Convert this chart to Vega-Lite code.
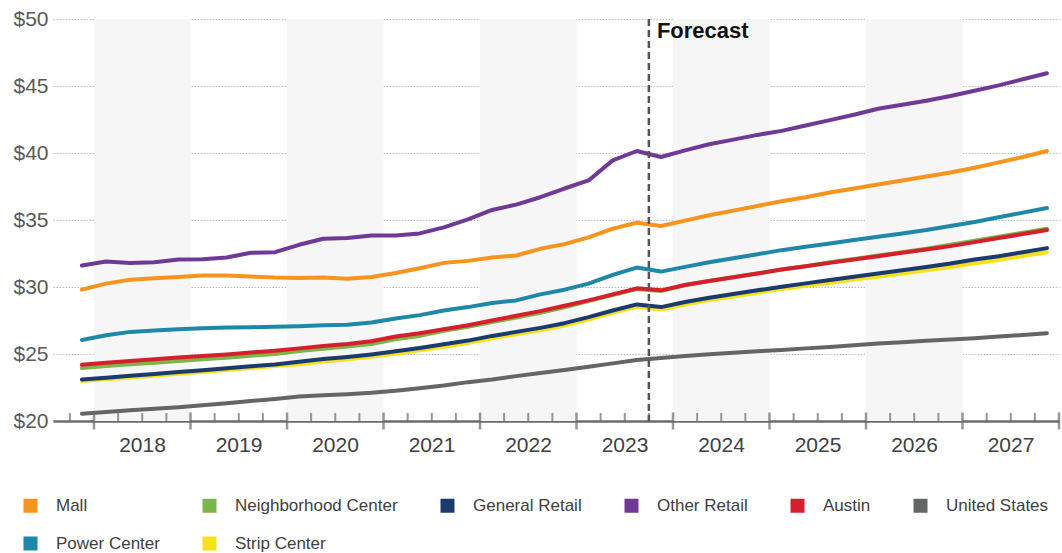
{
  "$schema": "https://vega.github.io/schema/vega-lite/v6.json",
  "width": 1006,
  "height": 402,
  "autosize": {"type": "none"},
  "padding": {"left": 53, "top": 19, "right": 3, "bottom": 132},
  "background": "white",
  "config": {"view": {"stroke": null}, "font": "Liberation Sans"},
  "datasets": {
    "bands": [
      {"start": 2018, "end": 2019},
      {"start": 2020, "end": 2021},
      {"start": 2022, "end": 2023},
      {"start": 2024, "end": 2025},
      {"start": 2026, "end": 2027}
    ],
    "years": [
      {"year": 2018}, {"year": 2019}, {"year": 2020}, {"year": 2021}, {"year": 2022}, {"year": 2023},
      {"year": 2024}, {"year": 2025}, {"year": 2026}, {"year": 2027}, {"year": 2028}
    ],
    "quarters": [
      {"q": 2017.75}, {"q": 2018.25}, {"q": 2018.5}, {"q": 2018.75}, {"q": 2019.25}, {"q": 2019.5}, {"q": 2019.75},
      {"q": 2020.25}, {"q": 2020.5}, {"q": 2020.75}, {"q": 2021.25}, {"q": 2021.5}, {"q": 2021.75},
      {"q": 2022.25}, {"q": 2022.5}, {"q": 2022.75}, {"q": 2023.25}, {"q": 2023.5}, {"q": 2023.75},
      {"q": 2024.25}, {"q": 2024.5}, {"q": 2024.75}, {"q": 2025.25}, {"q": 2025.5}, {"q": 2025.75},
      {"q": 2026.25}, {"q": 2026.5}, {"q": 2026.75}, {"q": 2027.25}, {"q": 2027.5}, {"q": 2027.75}
    ],
    "forecast": [{"t": 2023.75, "label": "Forecast"}],
    "series": [
      {"t": 2017.875, "Mall": 29.8, "Neighborhood Center": 23.95, "General Retail": 23.1, "Other Retail": 31.6, "Austin": 24.2, "United States": 20.55, "Power Center": 26.05, "Strip Center": 22.98},
      {"t": 2018.125, "Mall": 30.25, "Neighborhood Center": 24.1, "General Retail": 23.23, "Other Retail": 31.9, "Austin": 24.35, "United States": 20.67, "Power Center": 26.4, "Strip Center": 23.11},
      {"t": 2018.375, "Mall": 30.55, "Neighborhood Center": 24.23, "General Retail": 23.37, "Other Retail": 31.8, "Austin": 24.48, "United States": 20.8, "Power Center": 26.65, "Strip Center": 23.25},
      {"t": 2018.625, "Mall": 30.65, "Neighborhood Center": 24.35, "General Retail": 23.5, "Other Retail": 31.85, "Austin": 24.6, "United States": 20.92, "Power Center": 26.75, "Strip Center": 23.38},
      {"t": 2018.875, "Mall": 30.75, "Neighborhood Center": 24.48, "General Retail": 23.65, "Other Retail": 32.05, "Austin": 24.73, "United States": 21.03, "Power Center": 26.85, "Strip Center": 23.53},
      {"t": 2019.125, "Mall": 30.85, "Neighborhood Center": 24.6, "General Retail": 23.78, "Other Retail": 32.07, "Austin": 24.85, "United States": 21.17, "Power Center": 26.92, "Strip Center": 23.66},
      {"t": 2019.375, "Mall": 30.85, "Neighborhood Center": 24.72, "General Retail": 23.93, "Other Retail": 32.2, "Austin": 24.97, "United States": 21.32, "Power Center": 26.98, "Strip Center": 23.81},
      {"t": 2019.625, "Mall": 30.78, "Neighborhood Center": 24.87, "General Retail": 24.08, "Other Retail": 32.55, "Austin": 25.12, "United States": 21.5, "Power Center": 27.0, "Strip Center": 23.96},
      {"t": 2019.875, "Mall": 30.7, "Neighborhood Center": 25.0, "General Retail": 24.22, "Other Retail": 32.6, "Austin": 25.25, "United States": 21.65, "Power Center": 27.03, "Strip Center": 24.1},
      {"t": 2020.125, "Mall": 30.67, "Neighborhood Center": 25.22, "General Retail": 24.42, "Other Retail": 33.15, "Austin": 25.42, "United States": 21.82, "Power Center": 27.08, "Strip Center": 24.24},
      {"t": 2020.375, "Mall": 30.7, "Neighborhood Center": 25.4, "General Retail": 24.62, "Other Retail": 33.6, "Austin": 25.6, "United States": 21.92, "Power Center": 27.15, "Strip Center": 24.44},
      {"t": 2020.625, "Mall": 30.62, "Neighborhood Center": 25.55, "General Retail": 24.78, "Other Retail": 33.65, "Austin": 25.75, "United States": 22.0, "Power Center": 27.18, "Strip Center": 24.6},
      {"t": 2020.875, "Mall": 30.75, "Neighborhood Center": 25.75, "General Retail": 24.97, "Other Retail": 33.85, "Austin": 25.95, "United States": 22.1, "Power Center": 27.35, "Strip Center": 24.79},
      {"t": 2021.125, "Mall": 31.05, "Neighborhood Center": 26.1, "General Retail": 25.2, "Other Retail": 33.85, "Austin": 26.3, "United States": 22.25, "Power Center": 27.65, "Strip Center": 25.02},
      {"t": 2021.375, "Mall": 31.4, "Neighborhood Center": 26.35, "General Retail": 25.45, "Other Retail": 34.0, "Austin": 26.55, "United States": 22.45, "Power Center": 27.9, "Strip Center": 25.27},
      {"t": 2021.625, "Mall": 31.8, "Neighborhood Center": 26.73, "General Retail": 25.72, "Other Retail": 34.45, "Austin": 26.85, "United States": 22.65, "Power Center": 28.25, "Strip Center": 25.54},
      {"t": 2021.875, "Mall": 31.95, "Neighborhood Center": 27.03, "General Retail": 26.0, "Other Retail": 35.05, "Austin": 27.15, "United States": 22.9, "Power Center": 28.5, "Strip Center": 25.82},
      {"t": 2022.125, "Mall": 32.2, "Neighborhood Center": 27.38, "General Retail": 26.35, "Other Retail": 35.75, "Austin": 27.5, "United States": 23.1, "Power Center": 28.8, "Strip Center": 26.17},
      {"t": 2022.375, "Mall": 32.35, "Neighborhood Center": 27.73, "General Retail": 26.65, "Other Retail": 36.15, "Austin": 27.85, "United States": 23.35, "Power Center": 29.0, "Strip Center": 26.47},
      {"t": 2022.625, "Mall": 32.85, "Neighborhood Center": 28.08, "General Retail": 26.95, "Other Retail": 36.7, "Austin": 28.2, "United States": 23.58, "Power Center": 29.45, "Strip Center": 26.77},
      {"t": 2022.875, "Mall": 33.2, "Neighborhood Center": 28.48, "General Retail": 27.3, "Other Retail": 37.35, "Austin": 28.6, "United States": 23.8, "Power Center": 29.8, "Strip Center": 27.12},
      {"t": 2023.125, "Mall": 33.7, "Neighborhood Center": 28.95, "General Retail": 27.75, "Other Retail": 37.95, "Austin": 29.0, "United States": 24.05, "Power Center": 30.25, "Strip Center": 27.57},
      {"t": 2023.375, "Mall": 34.35, "Neighborhood Center": 29.4, "General Retail": 28.25, "Other Retail": 39.45, "Austin": 29.45, "United States": 24.3, "Power Center": 30.9, "Strip Center": 28.07},
      {"t": 2023.625, "Mall": 34.8, "Neighborhood Center": 29.85, "General Retail": 28.7, "Other Retail": 40.15, "Austin": 29.9, "United States": 24.55, "Power Center": 31.45, "Strip Center": 28.52},
      {"t": 2023.875, "Mall": 34.55, "Neighborhood Center": 29.7, "General Retail": 28.5, "Other Retail": 39.7, "Austin": 29.75, "United States": 24.7, "Power Center": 31.15, "Strip Center": 28.32},
      {"t": 2024.125, "Mall": 34.95, "Neighborhood Center": 30.15, "General Retail": 28.88, "Other Retail": 40.2, "Austin": 30.15, "United States": 24.85, "Power Center": 31.5, "Strip Center": 28.7},
      {"t": 2024.375, "Mall": 35.35, "Neighborhood Center": 30.45, "General Retail": 29.2, "Other Retail": 40.65, "Austin": 30.45, "United States": 24.98, "Power Center": 31.85, "Strip Center": 29.02},
      {"t": 2024.625, "Mall": 35.7, "Neighborhood Center": 30.72, "General Retail": 29.47, "Other Retail": 41.0, "Austin": 30.72, "United States": 25.1, "Power Center": 32.15, "Strip Center": 29.29},
      {"t": 2024.875, "Mall": 36.05, "Neighborhood Center": 31.0, "General Retail": 29.75, "Other Retail": 41.35, "Austin": 31.0, "United States": 25.2, "Power Center": 32.45, "Strip Center": 29.57},
      {"t": 2025.125, "Mall": 36.4, "Neighborhood Center": 31.3, "General Retail": 30.02, "Other Retail": 41.65, "Austin": 31.3, "United States": 25.3, "Power Center": 32.75, "Strip Center": 29.84},
      {"t": 2025.375, "Mall": 36.7, "Neighborhood Center": 31.55, "General Retail": 30.27, "Other Retail": 42.05, "Austin": 31.55, "United States": 25.42, "Power Center": 33.0, "Strip Center": 30.09},
      {"t": 2025.625, "Mall": 37.05, "Neighborhood Center": 31.85, "General Retail": 30.52, "Other Retail": 42.45, "Austin": 31.8, "United States": 25.53, "Power Center": 33.25, "Strip Center": 30.3},
      {"t": 2025.875, "Mall": 37.35, "Neighborhood Center": 32.1, "General Retail": 30.77, "Other Retail": 42.85, "Austin": 32.05, "United States": 25.65, "Power Center": 33.5, "Strip Center": 30.55},
      {"t": 2026.125, "Mall": 37.65, "Neighborhood Center": 32.35, "General Retail": 31.0, "Other Retail": 43.3, "Austin": 32.3, "United States": 25.78, "Power Center": 33.75, "Strip Center": 30.77},
      {"t": 2026.375, "Mall": 37.95, "Neighborhood Center": 32.6, "General Retail": 31.25, "Other Retail": 43.6, "Austin": 32.55, "United States": 25.88, "Power Center": 34.0, "Strip Center": 31.01},
      {"t": 2026.625, "Mall": 38.25, "Neighborhood Center": 32.85, "General Retail": 31.5, "Other Retail": 43.9, "Austin": 32.8, "United States": 25.98, "Power Center": 34.25, "Strip Center": 31.25},
      {"t": 2026.875, "Mall": 38.55, "Neighborhood Center": 33.15, "General Retail": 31.75, "Other Retail": 44.25, "Austin": 33.05, "United States": 26.08, "Power Center": 34.55, "Strip Center": 31.49},
      {"t": 2027.125, "Mall": 38.9, "Neighborhood Center": 33.45, "General Retail": 32.05, "Other Retail": 44.65, "Austin": 33.35, "United States": 26.18, "Power Center": 34.85, "Strip Center": 31.77},
      {"t": 2027.375, "Mall": 39.3, "Neighborhood Center": 33.75, "General Retail": 32.3, "Other Retail": 45.05, "Austin": 33.65, "United States": 26.3, "Power Center": 35.2, "Strip Center": 32.02},
      {"t": 2027.625, "Mall": 39.7, "Neighborhood Center": 34.05, "General Retail": 32.6, "Other Retail": 45.5, "Austin": 33.95, "United States": 26.42, "Power Center": 35.55, "Strip Center": 32.31},
      {"t": 2027.875, "Mall": 40.15, "Neighborhood Center": 34.35, "General Retail": 32.9, "Other Retail": 45.95, "Austin": 34.25, "United States": 26.55, "Power Center": 35.9, "Strip Center": 32.6}
    ]
  },
  "layer": [
    {
      "data": {"name": "bands"},
      "mark": {"type": "rect", "color": "#f6f6f6"},
      "encoding": {
        "x": {"field": "start", "type": "quantitative", "scale": {"domain": [2017.575, 2028], "nice": false, "zero": false}},
        "x2": {"field": "end"}
      }
    },
    {
      "data": {"name": "series"},
      "transform": [
        {"fold": ["United States", "Strip Center", "General Retail", "Neighborhood Center", "Austin", "Power Center", "Mall", "Other Retail"], "as": ["segment", "rent"]}
      ],
      "mark": {"type": "line", "strokeWidth": 4, "strokeCap": "round", "strokeJoin": "round"},
      "encoding": {
        "x": {
          "field": "t", "type": "quantitative",
          "scale": {"domain": [2017.575, 2028], "nice": false, "zero": false},
          "axis": {
            "title": null,
            "values": [2018, 2019, 2020, 2021, 2022, 2023, 2024, 2025, 2026, 2027],
            "format": "d",
            "labelOverlap": false,
            "labelBound": false,
            "labelFlush": false,
            "labelOffset": 48,
            "labelFontSize": 21,
            "labelColor": "#404040",
            "labelPadding": 13,
            "ticks": false,
            "domainColor": "#6b6b6b",
            "domainWidth": 2.5,
            "grid": false
          }
        },
        "y": {
          "field": "rent", "type": "quantitative",
          "scale": {"domain": [20, 50], "nice": false, "zero": false},
          "axis": {
            "title": null,
            "values": [20, 25, 30, 35, 40, 45, 50],
            "labelExpr": "'$' + datum.value",
            "domain": false,
            "ticks": false,
            "grid": true,
            "gridColor": "#bdbdbd",
            "gridDash": [1.5, 1.5],
            "gridWidth": 1,
            "labelFontSize": 21,
            "labelColor": "#595959",
            "labelPadding": 5
          }
        },
        "color": {
          "field": "segment", "type": "nominal",
          "scale": {
            "domain": ["Mall", "Neighborhood Center", "General Retail", "Other Retail", "Austin", "United States", "Power Center", "Strip Center"],
            "range": ["#f7941d", "#7ab648", "#1b3a6f", "#6f3996", "#d61f2c", "#646567", "#1f87a8", "#f6e11a"]
          },
          "legend": {
            "orient": "none",
            "legendX": -31,
            "legendY": 478,
            "direction": "horizontal",
            "columns": 6,
            "title": null,
            "symbolType": "square",
            "symbolSize": 196,
            "labelFontSize": 17,
            "labelLimit": 400,
            "labelColor": "#404040",
            "labelOffset": 17,
            "columnPadding": 41,
            "rowPadding": 20,
            "gridAlign": "each",
            "padding": 0,
            "encode": {
              "symbols": {
                "update": {
                  "fill": {"scale": "color", "field": "value"},
                  "stroke": {"value": "transparent"},
                  "strokeWidth": {"value": 0},
                  "opacity": {"value": 1}
                }
              }
            }
          }
        }
      }
    },
    {
      "data": {"name": "quarters"},
      "mark": {"type": "tick", "orient": "vertical", "size": 8, "thickness": 2, "yOffset": -4, "color": "#6b6b6b"},
      "encoding": {
        "x": {"field": "q", "type": "quantitative"},
        "y": {"datum": 20, "type": "quantitative"}
      }
    },
    {
      "data": {"name": "years"},
      "mark": {"type": "tick", "orient": "vertical", "size": 17, "thickness": 2.5, "color": "#6b6b6b"},
      "encoding": {
        "x": {"field": "year", "type": "quantitative"},
        "y": {"datum": 20, "type": "quantitative"}
      }
    },
    {
      "data": {"name": "forecast"},
      "mark": {"type": "rule", "color": "#555555", "strokeWidth": 2.5, "strokeDash": [7, 4]},
      "encoding": {
        "x": {"field": "t", "type": "quantitative"}
      }
    },
    {
      "data": {"name": "forecast"},
      "mark": {"type": "text", "align": "left", "baseline": "middle", "dx": 8, "dy": 12, "fontSize": 22, "fontWeight": "bold", "color": "#111111"},
      "encoding": {
        "x": {"field": "t", "type": "quantitative"},
        "y": {"datum": 50, "type": "quantitative"},
        "text": {"field": "label"}
      }
    }
  ]
}
